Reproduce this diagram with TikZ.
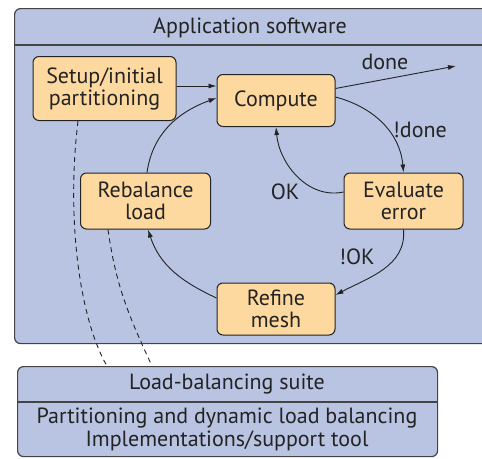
\documentclass[tikz,border=0pt]{standalone}
\usepackage{fontspec}
\setmainfont{PT Sans}
\usetikzlibrary{arrows.meta}
\definecolor{panelblue}{RGB}{184,196,226}
\definecolor{stepfill}{RGB}{253,217,160}
\definecolor{ink}{RGB}{35,35,35}
\tikzset{
  panel/.style={draw=ink!85, line width=1.2pt, fill=panelblue, rounded corners=6pt, inner sep=0pt},
  stepbox/.style={draw=ink, line width=1pt, fill=stepfill, rounded corners=6pt, align=center,
    inner sep=0pt, text=ink, font=\fontsize{22}{22}\selectfont},
  lbl/.style={text=ink, font=\fontsize{22}{22}\selectfont, inner sep=0pt},
  arr/.style={draw=ink, line width=0.9pt, -{Latex[length=8pt,width=5pt]}},
  link/.style={draw=ink, line width=0.9pt, dashed, dash pattern=on 5pt off 4pt}
}
\begin{document}
\begin{tikzpicture}[x=1pt,y=-1pt]
\useasboundingbox (0,0) rectangle (482,458);
\clip (0,0) rectangle (482,458);

% application panel (runs past the right edge)
\node[panel, minimum width=485, minimum height=335, anchor=north west] (app) at (14,8) {};
\draw[draw=ink!85, line width=1.2pt] (14,45) -- (500,45);
\node[lbl] (apptitle) at (250,28) {Application software};

% load-balancing suite panel
\node[panel, minimum width=420, minimum height=90, anchor=north west] (suite) at (17,366) {};
\draw[draw=ink!85, line width=1.2pt] (17,402) -- (437,402);
\node[lbl] (suitetitle) at (227,384) {Load-balancing suite};
\node[lbl, align=center, font=\fontsize{22}{23}\selectfont] (suitebody) at (227,429)
  {Partitioning and dynamic load balancing\\Implementations/support tool};

% steps of the computation
\node[stepbox, minimum width=143, minimum height=64] (setup) at (104.5,88.5) {Setup/initial\\partitioning};
\node[stepbox, minimum width=118, minimum height=52] (compute) at (276,100.5) {Compute};
\node[stepbox, minimum width=130, minimum height=56] (rebal) at (145.5,201) {Rebalance\\load};
\node[stepbox, minimum width=119, minimum height=56] (evalerr) at (403.5,201) {Evaluate\\error};
\node[stepbox, minimum width=118, minimum height=52] (refine) at (276,309) {Refine\\mesh};

\coordinate (exit) at (456,66);

% control flow
\draw[arr] ([yshift=2.5pt]setup.east) -- ([yshift=2.5pt]setup.east -| compute.west);
\draw[arr] ([yshift=12pt]compute.east) -- (exit);
\draw[arr] ([yshift=3.5pt]compute.east) to[out=-15,in=95] (evalerr.north);
\draw[arr] ([yshift=9pt]evalerr.west) to[out=192,in=-85] (compute.south);
\draw[arr] (evalerr.south) to[out=-85,in=28] ([yshift=14pt]refine.east);
\draw[arr] ([yshift=11pt]refine.west) to[out=155,in=-72] ([xshift=2.5pt]rebal.south);
\draw[arr] ([xshift=1.5pt]rebal.north) to[out=82,in=200] ([yshift=2.5pt]compute.west);

\node[lbl] (ldone) at (385,62) {done};
\node[lbl] (lnotdone) at (420,130) {!done};
\node[lbl] (lok) at (285,192) {OK};
\node[lbl] (lnotok) at (357,257) {!OK};

% links to the load-balancing suite
\draw[link] ([xshift=-26.5pt]setup.south) .. controls (66,220) and (80,320) .. (suite.north -| 107,0);
\draw[link] ([xshift=-37.5pt]rebal.south) to[out=-82,in=115] (suite.north -| 152,0);
\end{tikzpicture}
\end{document}
